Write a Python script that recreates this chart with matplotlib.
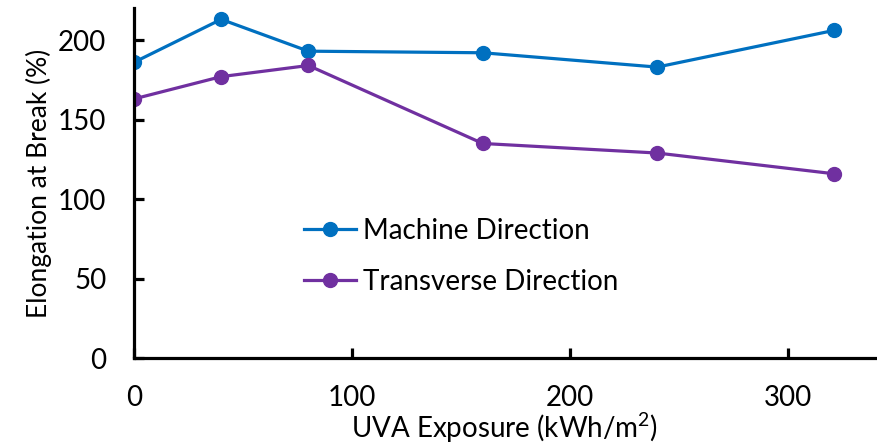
import matplotlib

matplotlib.use("Agg")
import matplotlib.pyplot as plt

EXPOSURE = [0, 40, 80, 160, 240, 321]
MACHINE = [186, 213, 193, 192, 183, 206]
TRANSVERSE = [163, 177, 184, 135, 129, 116]
LABELS = ["Machine Direction", "Transverse Direction"]
COLORS = ["#0070C0", "#7030A0"]

plt.rcParams["font.family"] = ["Lato", "DejaVu Sans"]
plt.rcParams["mathtext.default"] = "regular"

fig = plt.figure(figsize=(8.77, 4.46), dpi=100)
ax = fig.add_axes([0.1528, 0.1966, 0.845, 0.785])

for ys, label, color in zip([MACHINE, TRANSVERSE], LABELS, COLORS):
    ax.plot(EXPOSURE, ys, "-o", color=color, lw=2.3, markersize=10, label=label)

ax.set_xlim(0, 340)
ax.set_ylim(0, 220)
ax.set_xticks([0, 100, 200, 300])
ax.set_yticks([0, 50, 100, 150, 200])
for s in ["top", "right"]:
    ax.spines[s].set_visible(False)
for s in ["left", "bottom"]:
    ax.spines[s].set_linewidth(2.3)
ax.tick_params(direction="in", length=7, width=2.3, labelsize=20)
ax.tick_params(axis="x", pad=19)
ax.tick_params(axis="y", pad=20)
ax.set_xlabel("UVA Exposure (kWh/m$^2$)", fontsize=20, labelpad=0)
ax.set_ylabel("Elongation at Break (%)", fontsize=19, labelpad=4)
ax.legend(loc="center left", bbox_to_anchor=(0.195, 0.291), frameon=False,
          fontsize=20, handlelength=1.9, handletextpad=0.25, labelspacing=0.9)

fig.savefig("out.png", dpi=100)
